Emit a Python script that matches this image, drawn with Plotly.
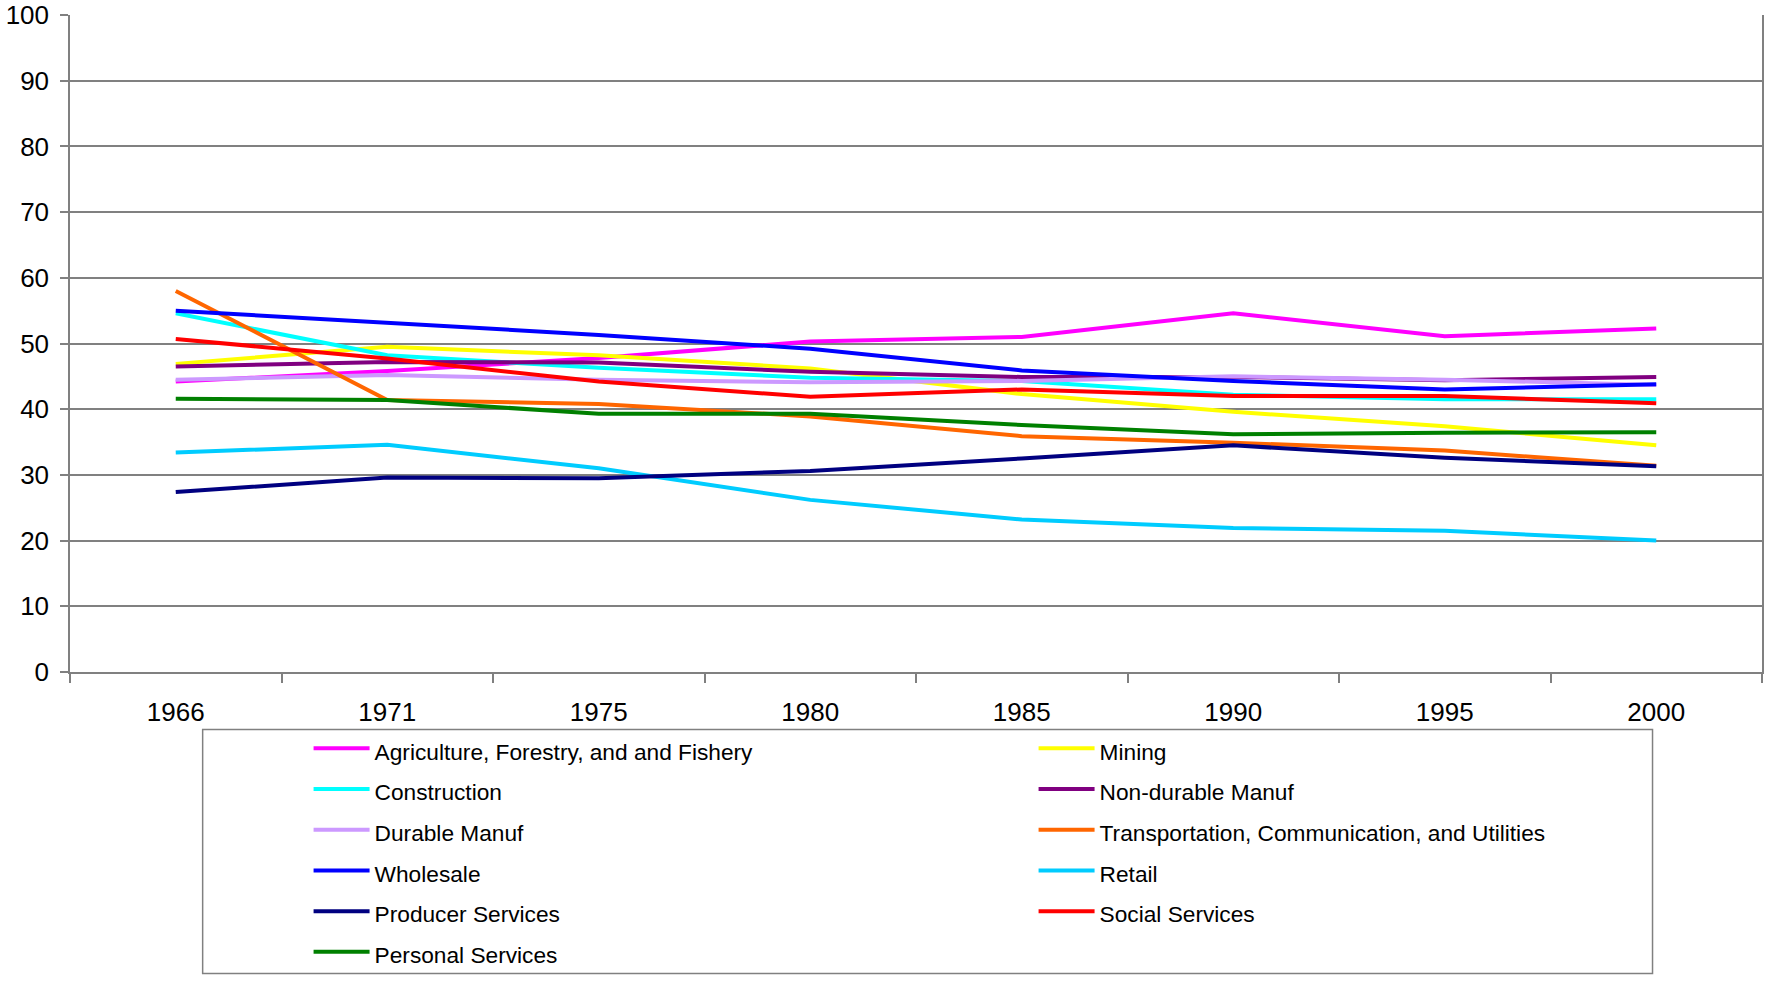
import plotly.graph_objects as go

years = ["1966", "1971", "1975", "1980", "1985", "1990", "1995", "2000"]
y_ticks = [0, 10, 20, 30, 40, 50, 60, 70, 80, 90, 100]

agriculture = [44.2, 45.8, 47.8, 50.3, 51.0, 54.6, 51.1, 52.3]
mining = [46.9, 49.5, 48.2, 46.2, 42.3, 39.6, 37.4, 34.5]
construction = [54.6, 48.2, 46.3, 44.8, 44.3, 42.2, 41.5, 41.5]
nondurable = [46.5, 47.2, 47.1, 45.7, 44.9, 44.9, 44.4, 44.9]
durable = [44.5, 45.2, 44.5, 44.1, 44.3, 45.0, 44.5, 43.7]
transportation = [58.0, 41.4, 40.8, 38.9, 35.9, 34.9, 33.7, 31.4]
wholesale = [55.0, 53.1, 51.3, 49.2, 45.9, 44.3, 43.0, 43.8]
retail = [33.4, 34.6, 31.0, 26.2, 23.2, 21.9, 21.5, 20.0]
producer = [27.4, 29.6, 29.5, 30.6, 32.5, 34.5, 32.6, 31.3]
social = [50.7, 47.7, 44.2, 41.9, 43.0, 42.0, 42.0, 40.9]
personal = [41.6, 41.4, 39.3, 39.3, 37.6, 36.2, 36.4, 36.5]

series = [
    ("Agriculture, Forestry, and and Fishery", agriculture, "#FF00FF"),
    ("Mining", mining, "#FFFF00"),
    ("Construction", construction, "#00FFFF"),
    ("Non-durable Manuf", nondurable, "#800080"),
    ("Durable Manuf", durable, "#CC99FF"),
    ("Transportation, Communication, and Utilities", transportation, "#FF6600"),
    ("Wholesale", wholesale, "#0000FF"),
    ("Retail", retail, "#00CCFF"),
    ("Producer Services", producer, "#000080"),
    ("Social Services", social, "#FF0000"),
    ("Personal Services", personal, "#008000"),
]

fig = go.Figure()
for name, values, color in series:
    # legend label set in a smaller span so the rows get extra spacing
    label = '<span style="font-size:22.7px">' + name + '</span>'
    fig.add_trace(go.Scatter(
        x=years, y=values, mode="lines", name=label,
        line=dict(color=color, width=4),
    ))

font_family = "Liberation Sans, Arial, sans-serif"

fig.update_layout(
    width=1765, height=981,
    margin=dict(l=70, r=3, t=15, b=309, autoexpand=False),
    paper_bgcolor="white", plot_bgcolor="white",
    font=dict(family=font_family, color="black"),
    showlegend=True,
    legend=dict(
        orientation="h",
        x=0.141, xanchor="left",
        y=-0.0776, yanchor="top",
        font=dict(size=29, family=font_family, color="black"),
        itemwidth=56,
        entrywidth=654,
        bgcolor="rgba(0,0,0,0)",
        borderwidth=0,
        traceorder="normal",
    ),
    xaxis=dict(
        type="category",
        categoryorder="array", categoryarray=years,
        range=[-0.5, 7.5],
        showgrid=False,
        showline=True, linecolor="#808080", linewidth=1.5,
        ticks="outside", tickson="boundaries", ticklen=9,
        tickcolor="#808080", tickwidth=1.5,
        tickfont=dict(size=26, family=font_family, color="black"),
        ticklabelstandoff=16,
        zeroline=False,
    ),
    yaxis=dict(
        range=[0, 100],
        tickvals=y_ticks,
        showgrid=True, gridcolor="#808080", gridwidth=1.5,
        showline=True, linecolor="#808080", linewidth=1.5, mirror=True,
        ticks="outside", ticklen=8, tickcolor="#808080", tickwidth=1.5,
        tickfont=dict(size=26, family=font_family, color="black"),
        ticklabelstandoff=6,
        zeroline=False,
    ),
    shapes=[
        dict(type="rect", xref="paper", yref="paper",
             x0=0.0784, x1=0.9353, y0=-0.459, y1=-0.0875,
             line=dict(color="#808080", width=1.5), fillcolor="rgba(0,0,0,0)",
             layer="below"),
    ],
)

fig.write_html("out.html")
